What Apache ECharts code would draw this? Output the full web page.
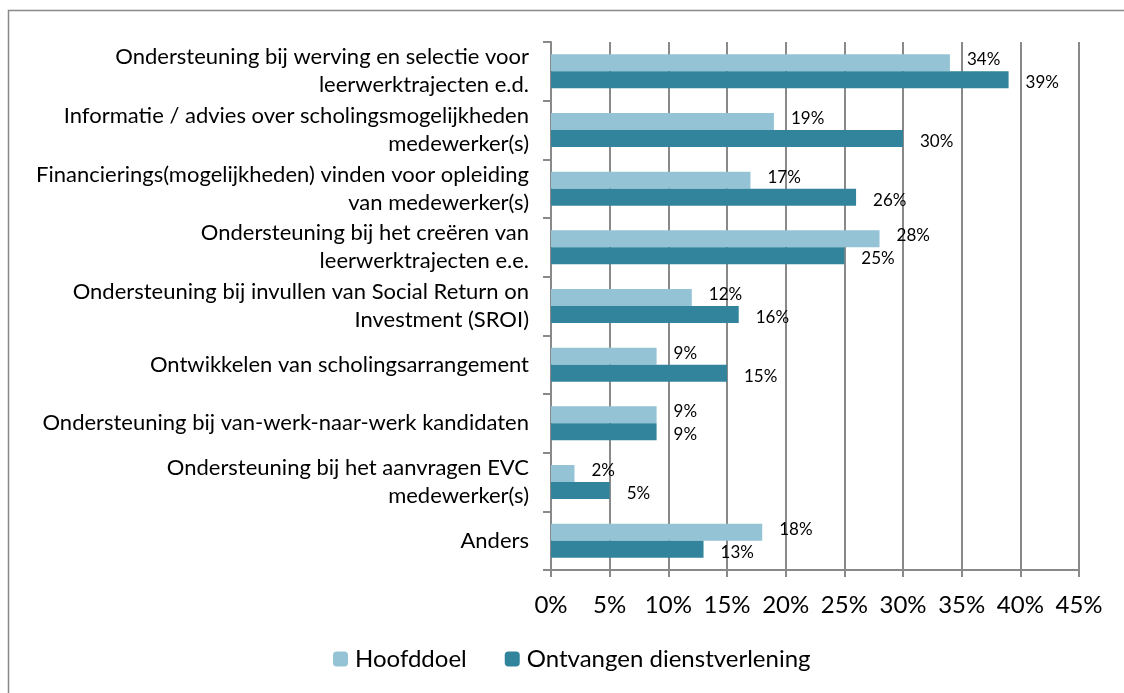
<!DOCTYPE html>
<html>
<head>
<meta charset="utf-8">
<script src="https://cdn.jsdelivr.net/npm/echarts@6/dist/echarts.min.js"></script>
<style>
  html, body { margin: 0; padding: 0; background: #fff; }
  #chart { width: 1124px; height: 693px; }
</style>
</head>
<body>
<div id="chart"></div>
<script>
const categories = [
  'Ondersteuning bij werving en selectie voor\nleerwerktrajecten e.d.',
  'Informatie / advies over scholingsmogelijkheden\nmedewerker(s)',
  'Financierings(mogelijkheden) vinden voor opleiding\nvan medewerker(s)',
  'Ondersteuning bij het creëren van\nleerwerktrajecten e.e.',
  'Ondersteuning bij invullen van Social Return on\nInvestment (SROI)',
  'Ontwikkelen van scholingsarrangement',
  'Ondersteuning bij van-werk-naar-werk kandidaten',
  'Ondersteuning bij het aanvragen EVC\nmedewerker(s)',
  'Anders'
];
const hoofddoel = [34, 19, 17, 28, 12, 9, 9, 2, 18];
const ontvangen = [39, 30, 26, 25, 16, 15, 9, 5, 13];

const font = 'Lato, sans-serif';
const gray = '#898989';
const chart = echarts.init(document.getElementById('chart'));

function labelOpt(dy) {
  return {
    show: true,
    position: 'right',
    distance: 17,
    offset: [0, dy],
    formatter: '{c}%',
    color: '#000',
    fontSize: 17,
    fontFamily: font
  };
}

chart.setOption({
  animation: false,
  textStyle: { fontFamily: font },
  graphic: [{
    type: 'rect',
    shape: { x: 8.5, y: 10.5, width: 1130, height: 700 },
    style: { fill: 'none', stroke: gray, lineWidth: 1.5 },
    silent: true
  }],
  legend: {
    bottom: 17,
    left: 328,
    itemWidth: 15,
    itemHeight: 15,
    itemGap: 38,
    textStyle: { fontSize: 24, color: '#000', fontFamily: font, padding: [0, 0, 0, 2] },
    data: ['Hoofddoel', 'Ontvangen dienstverlening']
  },
  grid: { left: 551, right: 45, top: 42, bottom: 123, containLabel: false },
  xAxis: {
    type: 'value',
    min: 0,
    max: 45,
    interval: 5,
    axisLine: { show: true, lineStyle: { color: gray, width: 2 } },
    axisTick: { show: true, length: 7, lineStyle: { color: gray, width: 2 } },
    axisLabel: { formatter: '{value}%', fontSize: 24, color: '#000', margin: 23, fontFamily: font },
    splitLine: { show: true, lineStyle: { color: gray, width: 2 } }
  },
  yAxis: {
    type: 'category',
    inverse: true,
    data: categories,
    axisLine: { show: true, lineStyle: { color: gray, width: 2 } },
    axisTick: { show: true, length: 8, lineStyle: { color: gray, width: 2 } },
    axisLabel: { fontSize: 22, color: '#000', margin: 22, lineHeight: 28, align: 'right', fontFamily: font }
  },
  series: [
    {
      name: 'Hoofddoel',
      type: 'bar',
      data: hoofddoel,
      barWidth: 17,
      barGap: '0%',
      itemStyle: { color: '#93C3D4' },
      label: labelOpt(-3)
    },
    {
      name: 'Ontvangen dienstverlening',
      type: 'bar',
      data: ontvangen,
      barWidth: 17,
      barGap: '0%',
      itemStyle: { color: '#31849B' },
      label: labelOpt(3)
    }
  ]
});
</script>
</body>
</html>
